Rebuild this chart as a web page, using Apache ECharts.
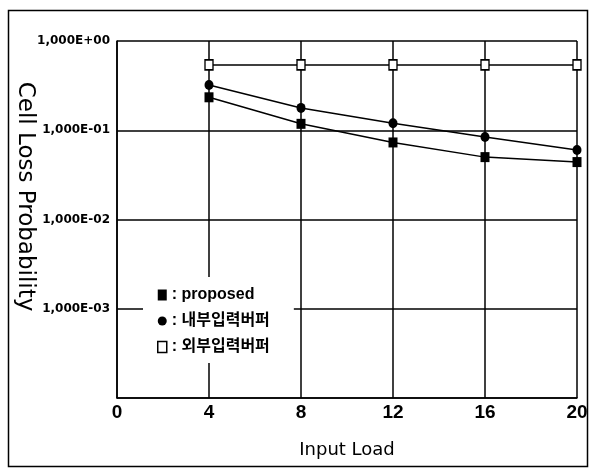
<!DOCTYPE html>
<html>
<head>
<meta charset="utf-8">
<script src="https://cdn.jsdelivr.net/npm/echarts@6/dist/echarts.min.js"></script>
<style>
html,body{margin:0;padding:0;background:#fff;}
#chart{width:589px;height:469px;}
</style>
</head>
<body>
<div id="chart"></div>
<script>
// ---- data ----
const inputLoad = [4, 8, 12, 16, 20];
const proposed = [0.234, 0.118, 0.073, 0.050, 0.044];
const innerBuffer = [0.322, 0.178, 0.120, 0.084, 0.060];
const outerBuffer = [0.54, 0.54, 0.54, 0.54, 0.54];
const seriesNames = ['proposed', '내부입력버퍼', '외부입력버퍼'];
const xTicks = [0, 4, 8, 12, 16, 20];

function pairs(ys) { return inputLoad.map((x, i) => [x, ys[i]]); }
function fmtY(v) {
  const e = Math.round(Math.log10(v));
  if (e <= -4) return '';
  const a = Math.abs(e);
  return '1,000E' + (e >= 0 ? '+' : '-') + (a < 10 ? '0' : '') + a;
}

const chart = echarts.init(document.getElementById('chart'), null, {renderer: 'canvas'});
const black = '#000';
const condensed = "'Liberation Sans Narrow', 'Liberation Sans', Arial, sans-serif";

const option = {
  backgroundColor: '#fff',
  animation: false,
  grid: {left: 117, top: 41, right: 12, bottom: 71, containLabel: false, outerBoundsMode: 'none'},
  xAxis: {
    type: 'value', min: 0, max: 20, interval: 4,
    name: 'Input Load', nameLocation: 'middle', nameGap: 43, nameMoveOverlap: false,
    nameTextStyle: {fontFamily: "'DejaVu Sans', sans-serif", fontSize: 18, color: black},
    axisLine: {show: true, lineStyle: {color: black, width: 1.5}},
    axisTick: {show: false},
    axisLabel: {margin: 5, color: black, fontFamily: condensed, fontWeight: 'bold', fontSize: 19,
      formatter: v => xTicks.includes(v) ? String(v) : ''},
    splitLine: {show: true, lineStyle: {color: black, width: 1.5}}
  },
  yAxis: {
    type: 'log', logBase: 10, min: 1e-4, max: 1,
    name: 'Cell Loss Probability', nameLocation: 'middle', nameGap: 81, nameRotate: -90, nameMoveOverlap: false,
    nameTextStyle: {fontFamily: "'DejaVu Sans', sans-serif", fontSize: 23, color: black, padding: [0, 46, 0, 0]},
    axisLine: {show: true, lineStyle: {color: black, width: 1.5}},
    axisTick: {show: false},
    minorTick: {show: false},
    axisLabel: {margin: 7, color: black, fontFamily: "'DejaVu Sans', sans-serif", fontWeight: 'bold', fontSize: 12,
      formatter: fmtY},
    splitLine: {show: true, lineStyle: {color: black, width: 1.5}}
  },
  legend: {
    orient: 'vertical', left: 143, top: 277,
    backgroundColor: '#fff', padding: [10, 24, 8, 14],
    itemWidth: 9, itemHeight: 11, itemGap: 10,
    formatter: n => ': ' + n,
    textStyle: {fontFamily: "'Liberation Sans', 'Noto Sans CJK KR', sans-serif", fontWeight: 'bold', fontSize: 16, color: black},
    data: [
      {name: seriesNames[0], icon: 'rect', itemStyle: {color: black}},
      {name: seriesNames[1], icon: 'circle', itemStyle: {color: black}},
      {name: seriesNames[2], icon: 'rect', itemStyle: {color: '#fff', borderColor: black, borderWidth: 1.5}}
    ],
    z: 10
  },
  series: [
    {name: seriesNames[0], type: 'line', data: pairs(proposed), symbol: 'rect', symbolSize: [9, 10],
      itemStyle: {color: black}, lineStyle: {color: black, width: 1.5}, z: 5},
    {name: seriesNames[1], type: 'line', data: pairs(innerBuffer), symbol: 'circle', symbolSize: [9, 10],
      itemStyle: {color: black}, lineStyle: {color: black, width: 1.5}, z: 5},
    {name: seriesNames[2], type: 'line', data: pairs(outerBuffer), symbol: 'rect', symbolSize: [8, 10],
      itemStyle: {color: '#fff', borderColor: black, borderWidth: 1.5}, lineStyle: {color: black, width: 1.5}, z: 5}
  ],
  graphic: [{
    type: 'rect', left: 6, top: 8, z: 100, silent: true,
    shape: {width: 579, height: 456},
    style: {fill: null, stroke: black, lineWidth: 1.5}
  }]
};
chart.setOption(option);
</script>
</body>
</html>
